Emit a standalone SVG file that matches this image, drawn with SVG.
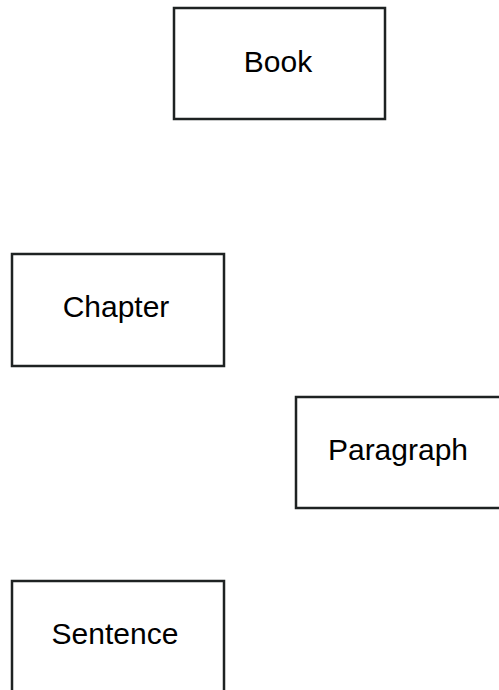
<svg xmlns="http://www.w3.org/2000/svg" width="499" height="690" viewBox="0 0 499 690">
  <style>
    .box { fill: #ffffff; stroke: #1e2222; stroke-width: 2.5; }
    .label { font-family: "Liberation Sans", Arial, sans-serif; font-size: 30px; fill: #000000; text-anchor: middle; }
  </style>
  <rect x="0" y="0" width="499" height="690" fill="#ffffff"/>
  <g id="connectors"></g>
  <g id="book">
    <rect class="box" x="174" y="8" width="211" height="111"/>
    <text class="label" x="278" y="72">Book</text>
  </g>
  <g id="chapter">
    <rect class="box" x="12" y="254" width="212" height="112"/>
    <text class="label" x="116" y="317">Chapter</text>
  </g>
  <g id="paragraph">
    <rect class="box" x="296" y="397" width="212" height="111"/>
    <text class="label" x="398" y="460">Paragraph</text>
  </g>
  <g id="sentence">
    <rect class="box" x="12" y="581" width="212" height="130"/>
    <text class="label" x="115" y="644">Sentence</text>
  </g>
</svg>
